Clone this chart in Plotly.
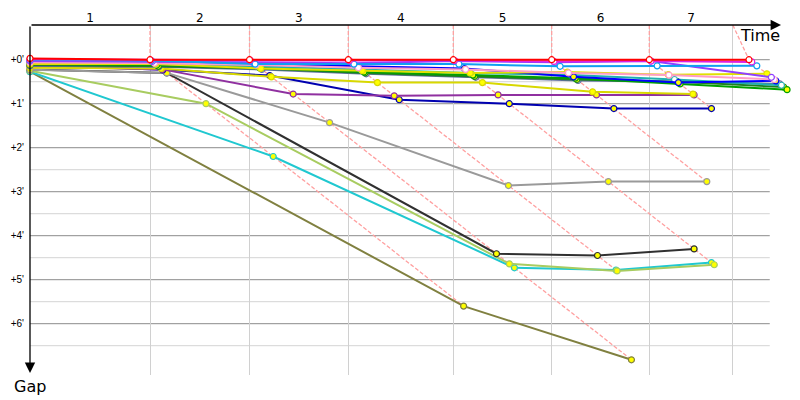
import plotly.graph_objects as go

# ---------------- data ----------------
lap_labels = ["1", "2", "3", "4", "5", "6", "7"]
# time (minutes) of the lap grid lines drawn on the time axis
lap_lines = [2.143, 3.920, 5.684, 7.559, 9.316, 11.059, 12.55]
# leader cumulative time at the end of each lap (index 0 = start)
leader_times = [0.0, 2.143, 3.920, 5.684, 7.559, 9.316, 11.059, 12.839]
gap_ticks = [0, 1, 2, 3, 4, 5, 6]
gap_tick_text = ["+0'", "+1'", "+2'", "+3'", "+4'", "+5'", "+6'"]
gap_minor = [0.5, 1.5, 2.5, 3.5, 4.5, 5.5, 6.5]

# gap to leader (minutes) at start and at the end of each completed lap
gap_red = [-0.03, 0.0, 0.0, 0.0, 0.0, 0.0, 0.0, 0.0]
gap_magenta = [-0.01, 0.01, 0.01, 0.02, 0.02, 0.04, 0.03, 0.05]
gap_lightblue = [0.0, 0.02, 0.1, 0.1, 0.1, 0.15, 0.14, 0.14]
gap_violet = [0.03, 0.04, 0.06, 0.08, 0.03, 0.06, 0.03, 0.4]
gap_pink = [0.06, 0.08, 0.12, 0.18, 0.22, 0.3, 0.35, 0.45]
gap_yellow1 = [0.1, 0.1, 0.2, 0.25, 0.3, 0.28, 0.34, 0.32]
gap_blue = [0.05, 0.08, 0.1, 0.15, 0.2, 0.39, 0.52, 0.48]
gap_teal = [0.08, 0.1, 0.15, 0.22, 0.3, 0.35, 0.45, 0.58]
gap_green = [0.09, 0.12, 0.18, 0.28, 0.35, 0.42, 0.55, 0.68]
gap_darkgreen = [0.12, 0.15, 0.2, 0.3, 0.38, 0.45, 0.5, 0.62]
gap_slate = [0.14, 0.16, 0.22, 0.32, 0.4, 0.47, 0.5, 0.55]
gap_yellow2 = [0.18, 0.2, 0.39, 0.52, 0.52, 0.73, 0.78]
gap_purple = [0.15, 0.22, 0.78, 0.82, 0.8, 0.8, 0.8]
gap_navy = [0.12, 0.23, 0.36, 0.91, 1.0, 1.11, 1.11]
gap_grey = [0.23, 0.3, 1.43, 2.86, 2.77, 2.77]
gap_black = [0.22, 0.3, 4.41, 4.45, 4.3]
gap_lightgreen = [0.25, 1.0, 4.64, 4.8, 4.66]
gap_cyan = [0.27, 2.2, 4.73, 4.78, 4.61]
gap_olive = [0.27, 5.6, 6.82]

drivers = [
    ("olive", "#808040", "#ffff00", gap_olive),
    ("cyan", "#20c8d0", "#ffff00", gap_cyan),
    ("lightgreen", "#a8cc60", "#ffff00", gap_lightgreen),
    ("black", "#303030", "#ffff00", gap_black),
    ("grey", "#9a9a9a", "#ffff00", gap_grey),
    ("navy", "#0000b0", "#ffff00", gap_navy),
    ("purple", "#9030a0", "#ffff00", gap_purple),
    ("yellow2", "#d8d800", "#ffff00", gap_yellow2),
    ("slate", "#6070a0", "#ffffff", gap_slate),
    ("darkgreen", "#208020", "#ffff00", gap_darkgreen),
    ("green", "#00a000", "#ffff00", gap_green),
    ("teal", "#20b0b0", "#ffffff", gap_teal),
    ("blue", "#0000ff", "#ffff00", gap_blue),
    ("yellow1", "#e0e000", "#ffff00", gap_yellow1),
    ("pink", "#ff9cc8", "#ffffff", gap_pink),
    ("violet", "#9040ff", "#ffffff", gap_violet),
    ("lightblue", "#10a0f0", "#ffffff", gap_lightblue),
    ("magenta", "#e020e0", "#ffffff", gap_magenta),
    ("red", "#ff0000", "#ffffff", gap_red),
]

# ---------------- geometry constants ----------------
X_MAX = 13.75          # minutes at right edge of plot area
Y_TOP = -0.789
Y_BOTTOM = 7.166
GRID_RIGHT = 13.21     # horizontal grid lines stop here

fig = go.Figure()

# pink dashed "lap" lines: grid line top -> leader point -> slowest driver of that lap
for k in range(1, len(leader_times)):
    gmax = max(g[k] for _, _, _, g in drivers if len(g) > k)
    fig.add_trace(go.Scatter(
        x=[lap_lines[k - 1], leader_times[k], leader_times[k] + gmax],
        y=[Y_TOP, 0.0, gmax],
        mode="lines",
        line=dict(color="#ffa0a0", width=1.3, dash="4px,2px"),
        hoverinfo="skip", showlegend=False,
    ))

for name, color, fill, gaps in drivers:
    xs = [0.0] + [leader_times[k] + gaps[k] for k in range(1, len(gaps))]
    fig.add_trace(go.Scatter(
        x=xs, y=gaps, mode="lines+markers", name=name,
        line=dict(color=color, width=2),
        marker=dict(size=6, color=fill, line=dict(color=color, width=1.2)),
        cliponaxis=False, showlegend=False,
    ))

# horizontal grid lines (stop short of the right edge)
shapes = []
for g in gap_minor:
    shapes.append(dict(type="line", xref="x", yref="y", x0=0, x1=GRID_RIGHT, y0=g, y1=g,
                       line=dict(color="#d4d4d4", width=1), layer="below"))
for g in gap_ticks:
    shapes.append(dict(type="line", xref="x", yref="y", x0=0, x1=GRID_RIGHT, y0=g, y1=g,
                       line=dict(color="#8c8c8c", width=1), layer="below"))

mids = [(a + b) / 2 for a, b in zip([0.0] + lap_lines[:-1], lap_lines)]

# the page body has an 8px margin: size/margins compensate so the plot area
# sits at page pixels x 30..800, y 25..375
fig.update_layout(
    width=792, height=392,
    margin=dict(l=22, r=0, t=17, b=25),
    paper_bgcolor="white", plot_bgcolor="white",
    font=dict(family="DejaVu Sans", color="black"),
    shapes=shapes,
    xaxis=dict(
        range=[0, X_MAX], side="top", showline=False, zeroline=False, automargin=False,
        tickvals=mids, ticktext=lap_labels, ticks="", showgrid=False,
        tickfont=dict(size=12), ticklabelstandoff=0,
        minor=dict(tickvals=lap_lines, showgrid=True, gridcolor="#d0d0d0", gridwidth=1, ticks=""),
    ),
    yaxis=dict(
        range=[Y_BOTTOM, Y_TOP], showline=False, zeroline=False, automargin=False,
        tickvals=gap_ticks, ticktext=gap_tick_text, ticks="", showgrid=False,
        tickfont=dict(size=10, family="Liberation Sans"), ticklabelstandoff=5,
    ),
    annotations=[
        # time axis arrow
        dict(xref="paper", yref="paper", x=(781 - 30) / 770, y=1.0, ax=-751, ay=0,
             text="", showarrow=True, arrowhead=2, arrowsize=1.6, arrowwidth=1.3, arrowcolor="black"),
        # gap axis arrow
        dict(xref="paper", yref="paper", x=0.0, y=(375 - 373) / 350, ax=0, ay=-348,
             text="", showarrow=True, arrowhead=2, arrowsize=1.6, arrowwidth=1.3, arrowcolor="black"),
        dict(xref="paper", yref="paper", x=(760 - 30) / 770, y=(375 - 35) / 350,
             text="Time", showarrow=False, font=dict(size=16), xanchor="center", yanchor="middle"),
        dict(xref="paper", yref="paper", x=0.0, y=(375 - 386) / 350,
             text="Gap", showarrow=False, font=dict(size=16), xanchor="center", yanchor="middle"),
    ],
)

fig.write_html("out.html")
